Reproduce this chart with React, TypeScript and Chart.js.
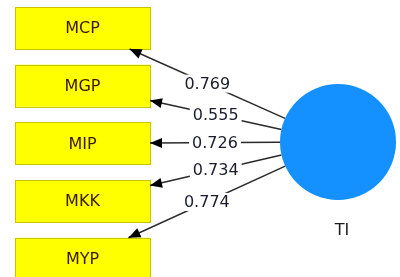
import React, { useEffect, useRef } from "react";
import { Chart, registerables } from "chart.js";

Chart.register(...registerables);

// ---- data ----
const indicators = ["MCP", "MGP", "MIP", "MKK", "MYP"];
const loadings = [0.769, 0.555, 0.726, 0.734, 0.774];
const constructName = "TI";

// ---- layout (drawing units = pixels of the 400x277 picture) ----
const W = 400;
const H = 277;
const BOX_X = 15;
const BOX_W = 135;
const BOX_H = 42;
const ROW0 = 28;
const ROW_STEP = 57.7;
const CIRCLE = { x: 338, y: 142, r: 58 };
const FONT = "16px 'DejaVu Sans', sans-serif";

function boxCenter(i: number) {
  return { x: BOX_X + BOX_W / 2, y: ROW0 + ROW_STEP * i };
}

function arrowGeom(i: number) {
  const b = boxCenter(i);
  const dx = b.x - CIRCLE.x;
  const dy = b.y - CIRCLE.y;
  const len = Math.hypot(dx, dy);
  const start = { x: CIRCLE.x + (dx / len) * CIRCLE.r, y: CIRCLE.y + (dy / len) * CIRCLE.r };
  const t = Math.min(BOX_W / 2 / Math.abs(dx || 1e-9), BOX_H / 2 / Math.abs(dy || 1e-9));
  const end = { x: b.x - dx * t, y: b.y - dy * t };
  return { start, end };
}

const pathPlugin = {
  id: "pathPlugin",
  beforeDatasetsDraw(chart: any) {
    const { ctx, scales } = chart;
    const px = (v: number) => scales.x.getPixelForValue(v);
    const py = (v: number) => scales.y.getPixelForValue(v);
    ctx.save();
    indicators.forEach((name, i) => {
      const c = boxCenter(i);
      const x0 = px(BOX_X), x1 = px(BOX_X + BOX_W);
      const y0 = py(c.y - BOX_H / 2), y1 = py(c.y + BOX_H / 2);
      ctx.fillStyle = "#ffff00";
      ctx.fillRect(x0, y0, x1 - x0, y1 - y0);
      ctx.strokeStyle = "#c9c400";
      ctx.lineWidth = 1;
      ctx.strokeRect(Math.round(x0) + 0.5, Math.round(y0) + 0.5, Math.round(x1 - x0), Math.round(y1 - y0));
      ctx.fillStyle = "#3a1a00";
      ctx.font = FONT;
      ctx.textAlign = "center";
      ctx.textBaseline = "middle";
      ctx.fillText(name, px(c.x), py(c.y) + 1);
    });
    ctx.restore();
  },
  afterDatasetsDraw(chart: any) {
    const { ctx, scales } = chart;
    const px = (v: number) => scales.x.getPixelForValue(v);
    const py = (v: number) => scales.y.getPixelForValue(v);
    ctx.save();
    indicators.forEach((_, i) => {
      const { start, end } = arrowGeom(i);
      const sx = px(start.x), sy = py(start.y), ex = px(end.x), ey = py(end.y);
      const ang = Math.atan2(ey - sy, ex - sx);
      const L = 12, Wd = 5;
      ctx.fillStyle = "#000";
      ctx.beginPath();
      ctx.moveTo(ex, ey);
      ctx.lineTo(ex - L * Math.cos(ang) + Wd * Math.sin(ang), ey - L * Math.sin(ang) - Wd * Math.cos(ang));
      ctx.lineTo(ex - L * Math.cos(ang) - Wd * Math.sin(ang), ey - L * Math.sin(ang) + Wd * Math.cos(ang));
      ctx.closePath();
      ctx.fill();
      // label
      const mx = (sx + ex) / 2, my = (sy + ey) / 2;
      const txt = loadings[i].toFixed(3);
      ctx.font = FONT;
      const tw = ctx.measureText(txt).width;
      ctx.fillStyle = "#ffffff";
      ctx.fillRect(mx - tw / 2 - 3, my - 9, tw + 6, 18);
      ctx.fillStyle = "#1c1c2c";
      ctx.textAlign = "center";
      ctx.textBaseline = "middle";
      ctx.fillText(txt, mx, my + 1);
    });
    ctx.fillStyle = "#1c1c1c";
    ctx.font = FONT;
    ctx.textAlign = "center";
    ctx.textBaseline = "middle";
    ctx.fillText(constructName, px(CIRCLE.x + 4), py(231));
    ctx.restore();
  },
};

export default function App() {
  const ref = useRef<HTMLCanvasElement>(null);
  useEffect(() => {
    document.body.style.margin = "0";
    const arrowSets = indicators.map((name, i) => {
      const { start, end } = arrowGeom(i);
      return {
        type: "line" as const,
        label: name,
        data: [start, end],
        borderColor: "#2a2a2a",
        borderWidth: 1.5,
        pointRadius: 0,
        showLine: true,
        clip: false,
        order: 2,
      };
    });
    const chart = new Chart(ref.current!, {
      type: "scatter",
      data: {
        datasets: [
          {
            label: constructName,
            data: [{ x: CIRCLE.x, y: CIRCLE.y }],
            pointRadius: CIRCLE.r,
            pointHoverRadius: CIRCLE.r,
            backgroundColor: "#1490ff",
            borderColor: "#1490ff",
            borderWidth: 0,
            clip: false,
            order: 1,
          } as any,
          ...arrowSets,
        ],
      },
      options: {
        animation: false,
        responsive: true,
        maintainAspectRatio: false,
        layout: { padding: 0, autoPadding: false },
        plugins: { legend: { display: false }, tooltip: { enabled: false } },
        events: [],
        scales: {
          x: { type: "linear", min: 0, max: W, display: false },
          y: { type: "linear", min: 0, max: H, reverse: true, display: false },
        },
      },
      plugins: [pathPlugin],
    });
    return () => chart.destroy();
  }, []);
  return (
    <div style={{ position: "fixed", left: 0, top: 0, width: W, height: H, background: "#fff" }}>
      <canvas ref={ref} />
    </div>
  );
}
